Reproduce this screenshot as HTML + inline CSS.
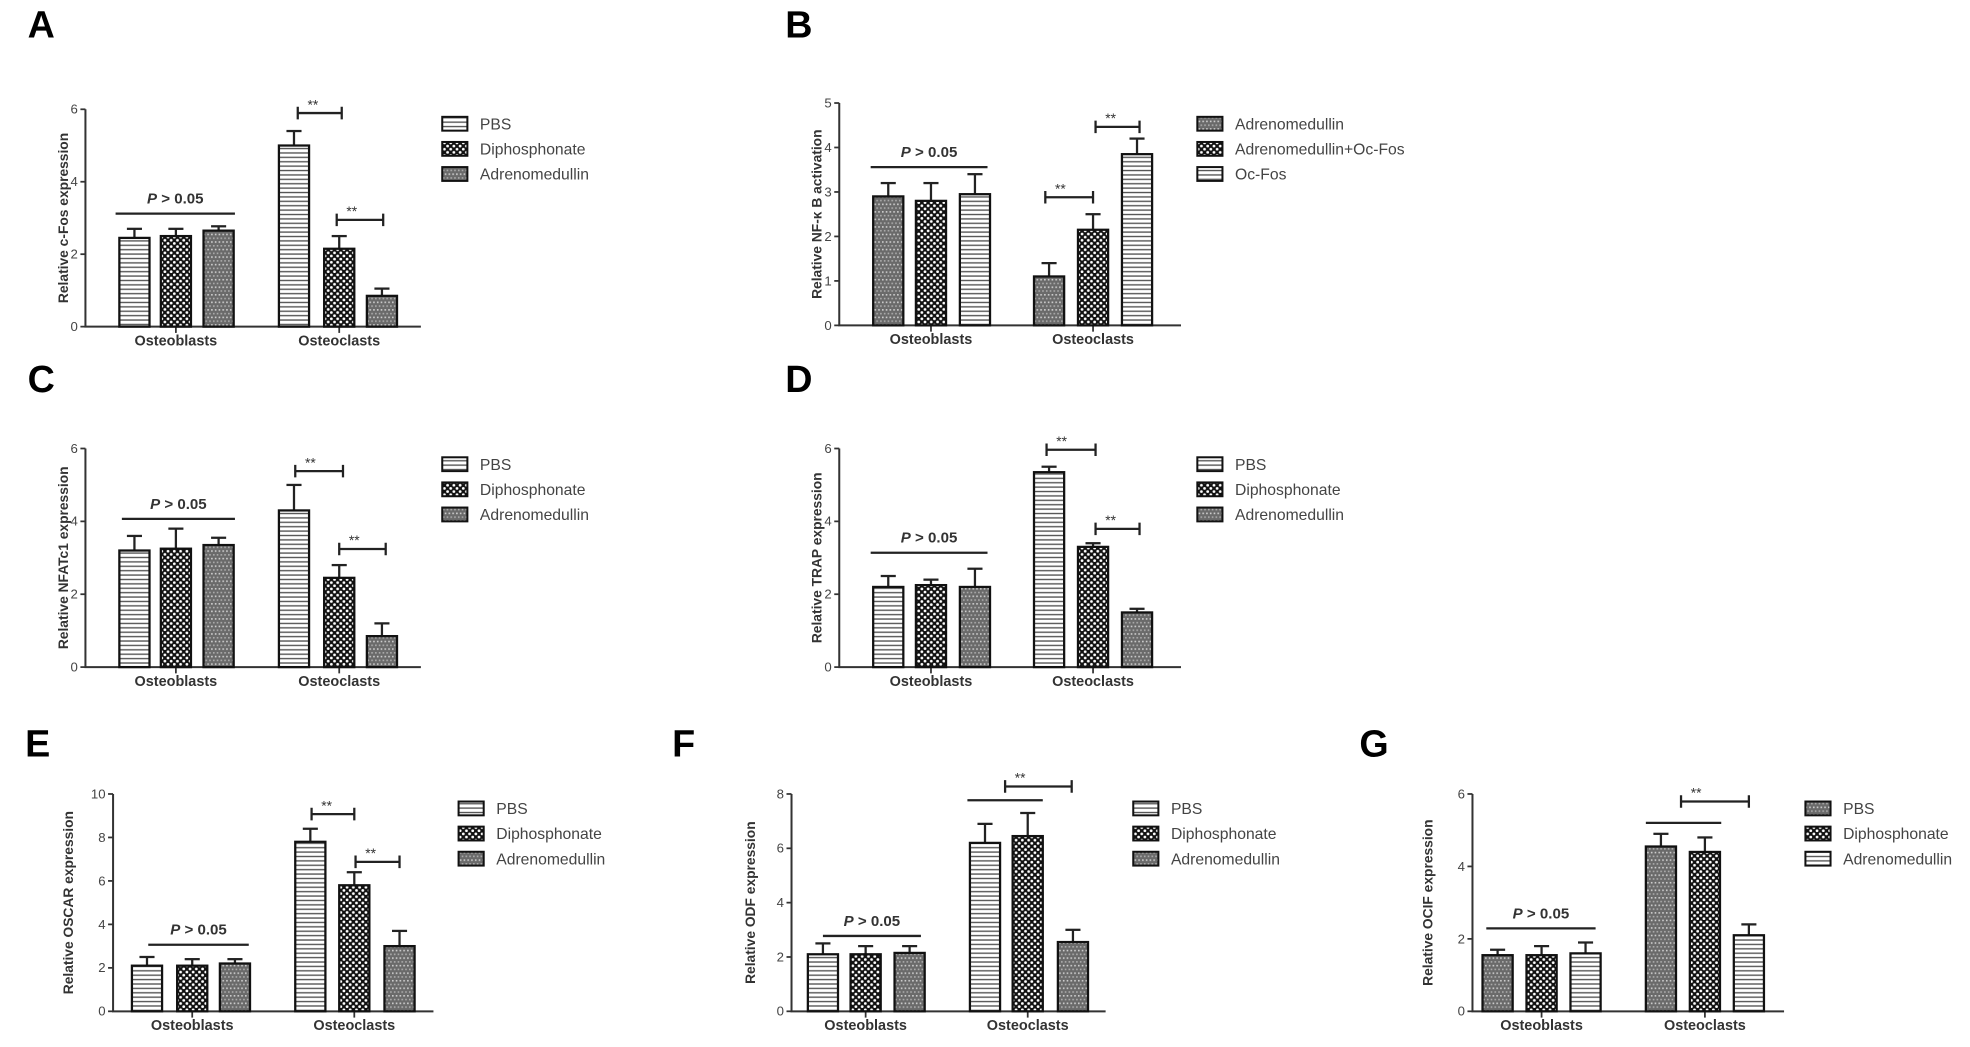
<!DOCTYPE html>
<html><head><meta charset="utf-8"><style>
html,body{margin:0;padding:0;background:#fff;}
svg{display:block;font-family:"Liberation Sans",Arial,sans-serif;}
</style></head><body>
<svg id="fig" width="1970" height="1047" viewBox="0 0 1568 833.4" preserveAspectRatio="none" xmlns="http://www.w3.org/2000/svg">
<defs>
<pattern id="pStripe" width="4" height="3.5" patternUnits="userSpaceOnUse"><rect width="4" height="3.5" fill="#fff"/><rect y="2.2" width="4" height="1.1" fill="#555"/></pattern>
<pattern id="pCheck" width="5" height="5" patternUnits="userSpaceOnUse"><rect width="5" height="5" fill="#111"/><circle cx="1.25" cy="1.25" r="1.1" fill="#fff"/><circle cx="3.75" cy="3.75" r="1.1" fill="#fff"/></pattern>
<pattern id="pDot" width="3" height="6" patternUnits="userSpaceOnUse"><rect width="3" height="6" fill="#6a6a6a"/><rect x="0" y="0" width="1.3" height="1.3" fill="#ccc"/><rect x="1.5" y="3" width="1.3" height="1.3" fill="#aaa"/></pattern>
</defs>
<g id="root"></g>
</svg>
<script>
// ---- data ----
const categories = ["Osteoblasts", "Osteoclasts"];
const aLegend = ["PBS", "Diphosphonate", "Adrenomedullin"];
const aVals = [[2.45, 2.5, 2.65], [5.0, 2.15, 0.85]];
const aErrs = [[0.25, 0.2, 0.12], [0.4, 0.35, 0.2]];
const aTicks = [0, 2, 4, 6];
const bLegend = ["Adrenomedullin", "Adrenomedullin+Oc-Fos", "Oc-Fos"];
const bVals = [[2.9, 2.8, 2.95], [1.1, 2.15, 3.85]];
const bErrs = [[0.3, 0.4, 0.45], [0.3, 0.35, 0.35]];
const bTicks = [0, 1, 2, 3, 4, 5];
const cVals = [[3.2, 3.25, 3.35], [4.3, 2.45, 0.85]];
const cErrs = [[0.4, 0.55, 0.2], [0.7, 0.35, 0.35]];
const cTicks = [0, 2, 4, 6];
const dVals = [[2.2, 2.25, 2.2], [5.35, 3.3, 1.5]];
const dErrs = [[0.3, 0.15, 0.5], [0.15, 0.1, 0.1]];
const dTicks = [0, 2, 4, 6];
const eVals = [[2.1, 2.1, 2.2], [7.8, 5.8, 3.0]];
const eErrs = [[0.4, 0.3, 0.2], [0.6, 0.6, 0.7]];
const eTicks = [0, 2, 4, 6, 8, 10];
const fVals = [[2.1, 2.1, 2.15], [6.2, 6.45, 2.55]];
const fErrs = [[0.4, 0.3, 0.25], [0.7, 0.85, 0.45]];
const fTicks = [0, 2, 4, 6, 8];
const gVals = [[1.55, 1.55, 1.6], [4.55, 4.4, 2.1]];
const gErrs = [[0.15, 0.25, 0.3], [0.35, 0.4, 0.3]];
const gTicks = [0, 2, 4, 6];

const NS = "http://www.w3.org/2000/svg";
const root = document.getElementById("root");
function mk(tag, attrs, parent, txt) {
  const e = document.createElementNS(NS, tag);
  for (const k in attrs) e.setAttribute(k, attrs[k]);
  if (txt !== undefined) e.textContent = txt;
  (parent || root).appendChild(e);
  return e;
}

function panel(p) {
  const g = mk("g", {});
  
  
  const lt = mk("text", {x: p.lx, y: p.ly, "font-size": 30, "font-weight": "bold"}, g, p.letter);
  
  
  const ymax = p.ticks[p.ticks.length - 1];
  const Y = v => p.y0 - (v / ymax) * (p.y0 - p.ytop);
  const ax = mk("path", {d: `M${p.ax},${p.ytop}V${p.y0}H${p.axEnd}`, stroke: "#333", "stroke-width": 1.6, fill: "none"}, g);
  
  
  p.ticks.forEach(t => {
    mk("line", {x1: p.ax - 4, x2: p.ax, y1: Y(t), y2: Y(t), stroke: "#333", "stroke-width": 1.4}, g);
    const tl = mk("text", {x: p.ax - 6, y: Y(t) + 3.5, "font-size": 10.5, fill: "#444", "text-anchor": "end"}, g, t);
    
    
  });
  const yt = mk("text", {x: 0, y: 0, "font-size": 11, "font-weight": "bold", fill: "#333", "text-anchor": "middle",
    transform: `translate(${p.tx},${(p.y0 + p.ytop) / 2}) rotate(-90)`}, g, p.title);
  
  
  const bw = 24;
  categories.forEach((c, ci) => {
    const xs = p.barX[ci];
    const cx = xs[1] + bw / 2;
    mk("line", {x1: cx, x2: cx, y1: p.y0, y2: p.y0 + 5, stroke: "#333", "stroke-width": 1.4}, g);
    const cl = mk("text", {x: cx, y: p.y0 + 15, "font-size": 11.5, "font-weight": "bold", fill: "#333", "text-anchor": "middle"}, g, c);
    
    
    p.vals[ci].forEach((v, si) => {
      const x = xs[si];
      const top = Y(v), eTop = Y(v + p.errs[ci][si]);
      mk("line", {x1: x + bw / 2, x2: x + bw / 2, y1: top, y2: eTop, stroke: "#222", "stroke-width": 1.8}, g);
      mk("line", {x1: x + bw / 2 - 6, x2: x + bw / 2 + 6, y1: eTop, y2: eTop, stroke: "#222", "stroke-width": 1.8}, g);
      const r = mk("rect", {x: x, y: top, width: bw, height: p.y0 - top, fill: `url(#${p.pats[si]})`, stroke: "#111", "stroke-width": 1.8}, g);
      
      
    });
  });
  mk("line", {x1: p.pLine[0], x2: p.pLine[1], y1: p.pLine[2], y2: p.pLine[2], stroke: "#222", "stroke-width": 1.8}, g);
  const pt = mk("text", {x: (p.pLine[0] + p.pLine[1]) / 2, y: p.pLine[2] - 8, "font-size": 12, "font-weight": "bold", fill: "#333", "text-anchor": "middle"}, g);
  
  
  mk("tspan", {"font-style": "italic"}, pt, "P");
  mk("tspan", {}, pt, " > 0.05");
  (p.lines || []).forEach(l => mk("line", {x1: l[0], x2: l[1], y1: l[2], y2: l[2], stroke: "#222", "stroke-width": 1.8}, g));
  p.brackets.forEach(b => {
    const bg = mk("g", {}, g);
    
    
    mk("path", {d: `M${b[0]},${b[2] - 5}V${b[2] + 5}M${b[0]},${b[2]}H${b[1]}M${b[1]},${b[2] - 5}V${b[2] + 5}`, stroke: "#222", "stroke-width": 1.8, fill: "none"}, bg);
    mk("text", {x: b[0] + 12, y: b[2] - 3, "font-size": 11, fill: "#333", "text-anchor": "middle"}, bg, "**");
  });
  p.legend.forEach((name, i) => {
    const lg = mk("g", {}, g);
    
    
    const y = p.legY + i * 20;
    mk("rect", {x: p.legX, y: y - 5, width: 20, height: 11, fill: `url(#${p.pats[i]})`, stroke: "#111", "stroke-width": 1.6}, lg);
    mk("text", {x: p.legX + 30, y: y + 5, "font-size": 12.5, fill: "#444"}, lg, name);
  });
}

const std = ["pStripe", "pCheck", "pDot"];
panel({letter: "A", lx: 22, ly: 30, ax: 68, axEnd: 335, y0: 260, ytop: 87, ticks: aTicks, title: "Relative c-Fos expression", tx: 54,
  barX: [[95, 128, 162], [222, 258, 292]], vals: aVals, errs: aErrs, pats: std, legend: aLegend,
  pLine: [92, 187, 170], brackets: [[237, 272, 90], [268, 305, 175]], legX: 352, legY: 98});
panel({letter: "B", lx: 625, ly: 30, ax: 668, axEnd: 940, y0: 259, ytop: 82, ticks: bTicks, title: "Relative NF-\u03ba B activation", tx: 654,
  barX: [[695, 729, 764], [823, 858, 893]], vals: bVals, errs: bErrs, pats: ["pDot", "pCheck", "pStripe"], legend: bLegend,
  pLine: [693, 786, 133], brackets: [[832, 870, 157], [872, 907, 101]], legX: 953, legY: 98});
panel({letter: "C", lx: 22, ly: 312, ax: 68, axEnd: 335, y0: 531, ytop: 357, ticks: cTicks, title: "Relative NFATc1 expression", tx: 54,
  barX: [[95, 128, 162], [222, 258, 292]], vals: cVals, errs: cErrs, pats: std, legend: aLegend,
  pLine: [97, 187, 413], brackets: [[235, 273, 375], [270, 307, 437]], legX: 352, legY: 369});
panel({letter: "D", lx: 625, ly: 312, ax: 668, axEnd: 940, y0: 531, ytop: 357, ticks: dTicks, title: "Relative TRAP expression", tx: 654,
  barX: [[695, 729, 764], [823, 858, 893]], vals: dVals, errs: dErrs, pats: std, legend: aLegend,
  pLine: [693, 786, 440], brackets: [[833, 872, 358], [872, 907, 421]], legX: 953, legY: 369});
panel({letter: "E", lx: 20, ly: 602, ax: 90, axEnd: 345, y0: 805, ytop: 632, ticks: eTicks, title: "Relative OSCAR expression", tx: 58,
  barX: [[105, 141, 175], [235, 270, 306]], vals: eVals, errs: eErrs, pats: std, legend: aLegend,
  pLine: [118, 198, 752], brackets: [[248, 282, 648], [283, 318, 686]], legX: 365, legY: 643});
panel({letter: "F", lx: 535, ly: 602, ax: 630, axEnd: 880, y0: 805, ytop: 632, ticks: fTicks, title: "Relative ODF expression", tx: 601,
  barX: [[643, 677, 712], [772, 806, 842]], vals: fVals, errs: fErrs, pats: std, legend: aLegend,
  pLine: [655, 733, 745], lines: [[770, 830, 637]], brackets: [[800, 853, 626]], legX: 902, legY: 643});
panel({letter: "G", lx: 1082, ly: 602, ax: 1172, axEnd: 1420, y0: 805, ytop: 632, ticks: gTicks, title: "Relative OCIF expression", tx: 1140,
  barX: [[1180, 1215, 1250], [1310, 1345, 1380]], vals: gVals, errs: gErrs, pats: ["pDot", "pCheck", "pStripe"], legend: aLegend,
  pLine: [1183, 1270, 739], lines: [[1310, 1370, 655]], brackets: [[1338, 1392, 638]], legX: 1437, legY: 643});
</script>
</body></html>
